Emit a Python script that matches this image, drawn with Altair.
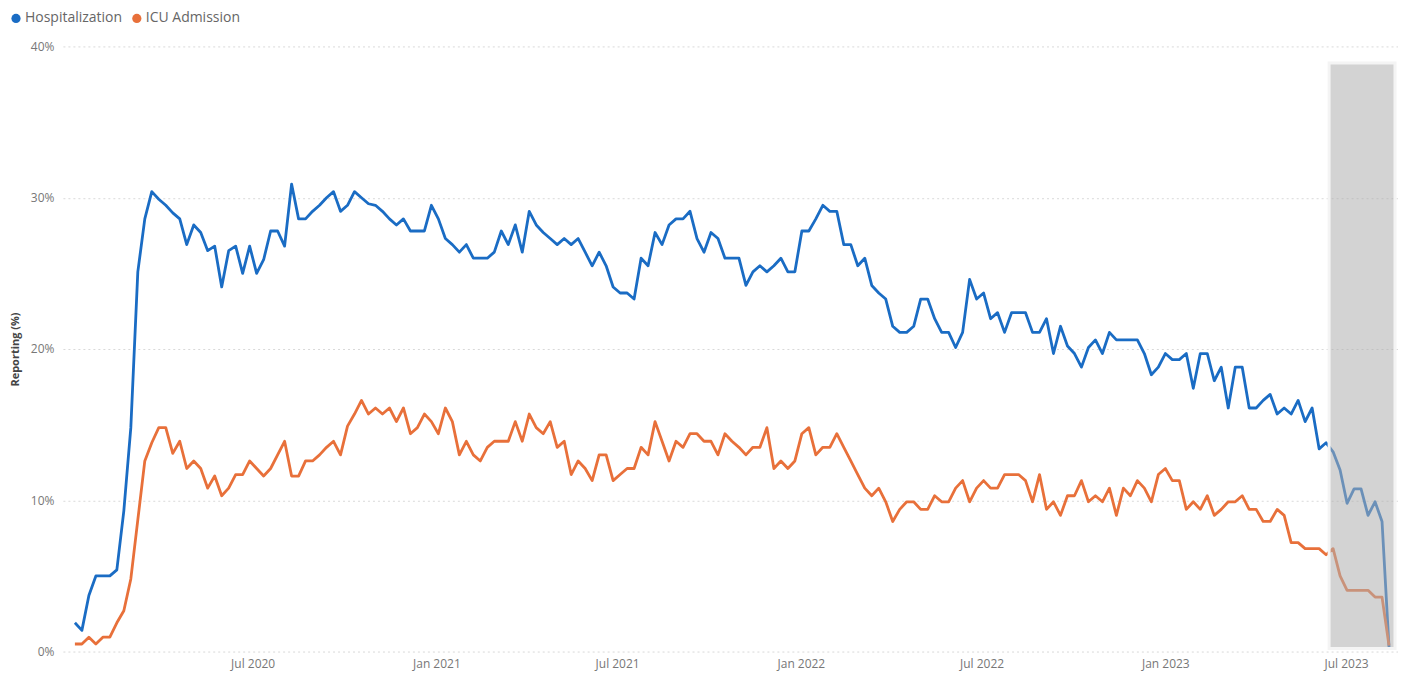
import altair as alt
import pandas as pd

# ---- data (weekly) ----
start_date = "2020-01-05"
n_weeks = 189

hospitalization = [
    1.9, 1.4, 3.7, 5.0, 5.0, 5.0, 5.4, 9.3, 14.8, 25.1,
    28.6, 30.4, 29.9, 29.5, 29.0, 28.6, 26.9, 28.2, 27.7, 26.5,
    26.8, 24.1, 26.5, 26.8, 25.0, 26.8, 25.0, 25.9, 27.8, 27.8,
    26.8, 30.9, 28.6, 28.6, 29.1, 29.5, 30.0, 30.4, 29.1, 29.5,
    30.4, 30.0, 29.6, 29.5, 29.1, 28.6, 28.2, 28.6, 27.8, 27.8,
    27.8, 29.5, 28.6, 27.3, 26.9, 26.4, 26.9, 26.0, 26.0, 26.0,
    26.4, 27.8, 26.9, 28.2, 26.4, 29.1, 28.2, 27.7, 27.3, 26.9,
    27.3, 26.9, 27.3, 26.4, 25.5, 26.4, 25.5, 24.1, 23.7, 23.7,
    23.3, 26.0, 25.5, 27.7, 26.9, 28.2, 28.6, 28.6, 29.1, 27.3,
    26.4, 27.7, 27.3, 26.0, 26.0, 26.0, 24.2, 25.1, 25.5, 25.1,
    25.5, 26.0, 25.1, 25.1, 27.8, 27.8, 28.6, 29.5, 29.1, 29.1,
    26.9, 26.9, 25.5, 26.0, 24.2, 23.7, 23.3, 21.5, 21.1, 21.1,
    21.5, 23.3, 23.3, 22.0, 21.1, 21.1, 20.1, 21.1, 24.6, 23.3,
    23.7, 22.0, 22.4, 21.1, 22.4, 22.4, 22.4, 21.1, 21.1, 22.0,
    19.7, 21.5, 20.2, 19.7, 18.8, 20.1, 20.6, 19.7, 21.1, 20.6,
    20.6, 20.6, 20.6, 19.7, 18.3, 18.8, 19.7, 19.3, 19.3, 19.7,
    17.4, 19.7, 19.7, 17.9, 18.8, 16.1, 18.8, 18.8, 16.1, 16.1,
    16.6, 17.0, 15.7, 16.1, 15.7, 16.6, 15.2, 16.1, 13.4, 13.8,
    13.2, 12.0, 9.8, 10.75, 10.75, 9.0, 9.9, 8.6, 0.3,
]

icu_admission = [
    0.5, 0.5, 0.95, 0.5, 0.95, 0.95, 1.9, 2.7, 4.8, 8.7,
    12.6, 13.8, 14.8, 14.8, 13.1, 13.9, 12.1, 12.6, 12.1, 10.8,
    11.6, 10.3, 10.8, 11.7, 11.7, 12.6, 12.1, 11.6, 12.1, 13.0,
    13.9, 11.6, 11.6, 12.6, 12.6, 13.0, 13.5, 13.9, 13.0, 14.9,
    15.7, 16.6, 15.7, 16.1, 15.7, 16.1, 15.2, 16.1, 14.4, 14.8,
    15.7, 15.2, 14.4, 16.1, 15.2, 13.0, 13.9, 13.0, 12.6, 13.5,
    13.9, 13.9, 13.9, 15.2, 13.9, 15.7, 14.8, 14.4, 15.2, 13.5,
    13.9, 11.7, 12.6, 12.1, 11.3, 13.0, 13.0, 11.3, 11.7, 12.1,
    12.1, 13.5, 13.0, 15.2, 13.9, 12.6, 13.9, 13.5, 14.4, 14.4,
    13.9, 13.9, 13.0, 14.4, 13.9, 13.5, 13.0, 13.5, 13.5, 14.8,
    12.1, 12.6, 12.1, 12.6, 14.4, 14.8, 13.0, 13.5, 13.5, 14.4,
    13.5, 12.6, 11.7, 10.8, 10.3, 10.8, 9.9, 8.6, 9.4, 9.9,
    9.9, 9.4, 9.4, 10.3, 9.9, 9.9, 10.8, 11.3, 9.9, 10.8,
    11.3, 10.8, 10.8, 11.7, 11.7, 11.7, 11.3, 9.9, 11.7, 9.4,
    9.9, 9.0, 10.3, 10.3, 11.3, 9.9, 10.3, 9.9, 10.8, 9.0,
    10.8, 10.3, 11.3, 10.8, 9.9, 11.7, 12.1, 11.3, 11.3, 9.4,
    9.9, 9.4, 10.3, 9.0, 9.4, 9.9, 9.9, 10.3, 9.4, 9.4,
    8.6, 8.6, 9.4, 9.0, 7.2, 7.2, 6.8, 6.8, 6.8, 6.4,
    6.8, 5.0, 4.05, 4.05, 4.05, 4.05, 3.6, 3.6, 0.4,
]

series_names = ["Hospitalization", "ICU Admission"]
series_colors = ["#1a6cc4", "#e8703a"]

x_tick_dates = [(2020, 7), (2021, 1), (2021, 7), (2022, 1), (2022, 7), (2023, 1), (2023, 7)]
y_ticks = [0, 10, 20, 30, 40]

# shaded (incomplete data) period
shade_start = "2023-06-14"
shade_end = "2023-08-19"
shade_low = 0.2
shade_high = 38.9

# ---- build tables ----
dates = pd.date_range(start_date, periods=n_weeks, freq="7D")
df = pd.DataFrame({
    "date": list(dates) * 2,
    "value": hospitalization + icu_admission,
    "series": [series_names[0]] * n_weeks + [series_names[1]] * n_weeks,
})
shade_df = pd.DataFrame({
    "start": [pd.Timestamp(shade_start)],
    "end": [pd.Timestamp(shade_end)],
    "low": [shade_low],
    "high": [shade_high],
})

FONT = "Open Sans"

x_scale = alt.Scale(domain=[alt.DateTime(year=2019, month=12, date=24),
                            alt.DateTime(year=2023, month=8, date=22)])
y_scale = alt.Scale(domain=[0, 40], nice=False)
color_scale = alt.Scale(domain=series_names, range=series_colors)

x_axis = alt.Axis(
    values=[alt.DateTime(year=y, month=m, date=1) for y, m in x_tick_dates],
    format="%b %Y", title=None, grid=False, domain=False, ticks=False,
    labelColor="#777777", labelFontSize=12, labelFont=FONT, labelPadding=7,
)
y_axis = alt.Axis(
    values=y_ticks, labelExpr="datum.value + '%'", title="Reporting (%)",
    grid=True, gridColor="#d9d9d9", gridDash=[2, 3], gridWidth=1,
    domain=False, ticks=False,
    labelColor="#777777", labelFontSize=12, labelFont=FONT, labelPadding=9,
    titleColor="#444444", titleFontSize=11, titleFont=FONT, titleFontWeight="bold",
    titlePadding=10,
)

lines = alt.Chart(df).mark_line(strokeWidth=2.8, strokeJoin="round").encode(
    x=alt.X("date:T", scale=x_scale, axis=x_axis),
    y=alt.Y("value:Q", scale=y_scale, axis=y_axis),
    color=alt.Color("series:N", scale=color_scale, legend=None),
)

# invisible points, only to carry the filled-circle legend
legend_points = alt.Chart(df).mark_circle(opacity=0, size=1).encode(
    x=alt.X("date:T", scale=x_scale),
    y=alt.Y("value:Q", scale=y_scale),
    color=alt.Color(
        "series:N", scale=color_scale,
        legend=alt.Legend(
            title=None, orient="none", legendX=-54, legendY=-35,
            direction="horizontal", symbolType="circle", symbolSize=85,
            symbolOpacity=1, symbolStrokeWidth=0, labelFontSize=14, labelFont=FONT,
            labelColor="#666666", labelOffset=2, columnPadding=7, padding=0,
        ),
    ),
)

shade = alt.Chart(shade_df).mark_rect(
    color="#afafaf", fillOpacity=0.55, stroke="#f4f4f4", strokeWidth=3
).encode(
    x=alt.X("start:T", scale=x_scale),
    x2="end:T",
    y=alt.Y("low:Q", scale=y_scale),
    y2="high:Q",
)

chart = alt.layer(lines, legend_points, shade).resolve_legend(
    color="independent"
).properties(
    width=1337, height=606,
    autosize=alt.AutoSizeParams(type="none"),
    padding={"left": 55, "top": 38, "right": 0, "bottom": 20},
).configure_view(stroke=None)

chart.save("out.html", embed_options={"renderer": "svg", "actions": False})
